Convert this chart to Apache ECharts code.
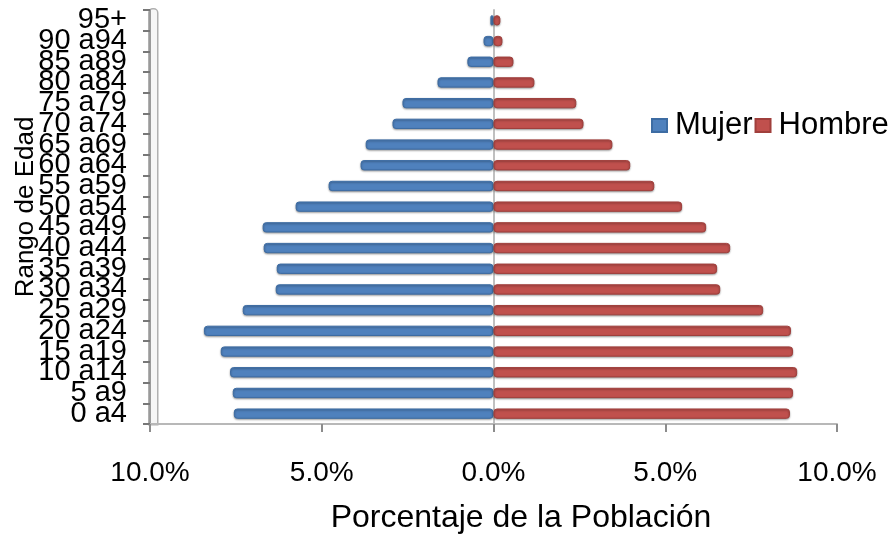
<!DOCTYPE html>
<html>
<head>
<meta charset="utf-8">
<script src="https://cdn.jsdelivr.net/npm/echarts@6/dist/echarts.min.js"></script>
<style>
  html, body { margin: 0; padding: 0; background: #fff; }
  #chart { width: 895px; height: 535px; }
</style>
</head>
<body>
<div id="chart"></div>
<script>
// Age groups, bottom to top
const categories = ['0 a4', '5 a9', '10 a14', '15 a19', '20 a24', '25 a29', '30 a34', '35 a39',
  '40 a44', '45 a49', '50 a54', '55 a59', '60 a64', '65 a69', '70 a74', '75 a79', '80 a84',
  '85 a89', '90 a94', '95+'];

// Share of the population (%) per age group
const mujer = [7.56, 7.59, 7.67, 7.94, 8.43, 7.30, 6.34, 6.31, 6.69, 6.72, 5.76, 4.80, 3.87,
  3.72, 2.94, 2.65, 1.63, 0.76, 0.29, 0.09];
const hombre = [8.63, 8.72, 8.84, 8.72, 8.66, 7.85, 6.60, 6.51, 6.89, 6.19, 5.49, 4.68, 3.98,
  3.46, 2.62, 2.41, 1.19, 0.58, 0.26, 0.20];

const seriesNames = ['Mujer', 'Hombre'];
const xTicks = [-10, -5, 0, 5, 10];

const FONT = 'Liberation Sans, Arial, sans-serif';
const chart = echarts.init(document.getElementById('chart'), null, { renderer: 'canvas' });

const barStyle = (color, border) => ({
  color: color,
  borderColor: border,
  borderWidth: 1,
  borderRadius: 3,
  shadowColor: 'rgba(0,0,0,0.35)',
  shadowBlur: 2,
  shadowOffsetY: 1
});

chart.setOption({
  animation: false,
  textStyle: { fontFamily: FONT },
  legend: {
    data: seriesNames,
    left: 646,
    top: 105,
    itemWidth: 15,
    itemHeight: 13,
    itemGap: 2,
    icon: 'rect',
    textStyle: { fontSize: 31, color: '#000', fontFamily: FONT, padding: [0, 0, 0, 3] }
  },
  grid: { left: 150, right: 58, top: 10, bottom: 111, containLabel: false, outerBoundsMode: 'none' },
  xAxis: {
    type: 'value',
    min: xTicks[0],
    max: xTicks[xTicks.length - 1],
    interval: 5,
    name: 'Porcentaje de la Población',
    nameLocation: 'middle',
    nameGap: 78,
    nameTextStyle: { fontSize: 32, color: '#000', fontFamily: FONT, padding: [0, 0, 0, 55] },
    axisLine: { show: true, lineStyle: { color: '#b8b8b8', width: 2 } },
    axisTick: { show: true, length: 8, lineStyle: { color: '#8c8c8c', width: 2 } },
    axisLabel: {
      margin: 35,
      fontSize: 28,
      color: '#000',
      fontFamily: FONT,
      formatter: v => Math.abs(v).toFixed(1) + '%'
    },
    splitLine: { show: false }
  },
  yAxis: [
    {
      type: 'category',
      data: categories,
      position: 'left',
      name: 'Rango de Edad',
      nameLocation: 'middle',
      nameGap: 111,
      nameMoveOverlap: false,
      nameRotate: 90,
      nameTextStyle: { fontSize: 26, color: '#000', fontFamily: FONT, padding: [0, 0, 0, 20] },
      axisLine: { show: true, lineStyle: { color: '#c0c0c0', width: 2 } },
      axisTick: { show: false },
      axisLabel: { margin: 23, fontSize: 29, color: '#000', fontFamily: FONT, interval: 0 },
      splitLine: { show: false }
    },
    {
      type: 'category',
      data: categories,
      position: 'left',
      axisLine: { show: true, onZero: true, lineStyle: { color: '#9a9a9a', width: 2 } },
      axisTick: { show: true, length: 7, lineStyle: { color: '#777', width: 2 } },
      axisLabel: { show: false },
      splitLine: { show: false }
    }
  ],
  graphic: [
    {
      type: 'rect',
      left: 148,
      top: 8,
      shape: { width: 9, height: 416, r: [4, 4, 0, 0] },
      style: { fill: '#f6f6f6', stroke: '#b0b0b0', lineWidth: 1.5 },
      z: -1
    }
  ],
  series: [
    {
      name: seriesNames[0],
      type: 'bar',
      stack: 'pop',
      barWidth: '50%',
      data: mujer.map(v => -v),
      itemStyle: barStyle('#4F81BD', '#3d6ca3')
    },
    {
      name: seriesNames[1],
      type: 'bar',
      stack: 'pop',
      barWidth: '50%',
      data: hombre,
      itemStyle: barStyle('#C0504D', '#a03f3c')
    }
  ]
});
</script>
</body>
</html>
